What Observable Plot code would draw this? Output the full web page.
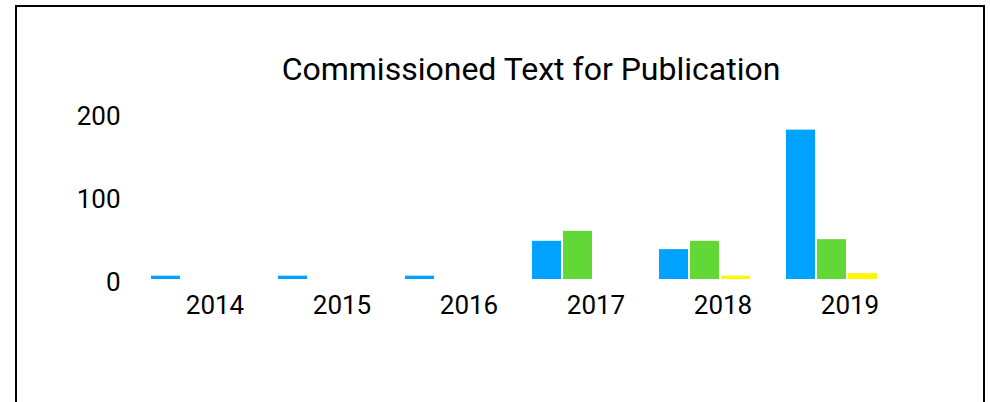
<!DOCTYPE html>
<html>
<head>
<meta charset="utf-8">
<script src="https://cdn.jsdelivr.net/npm/d3@7"></script>
<script src="https://cdn.jsdelivr.net/npm/@observablehq/plot@0.6"></script>
<style>
  html, body { margin: 0; padding: 0; background: #fff; }
  body { width: 990px; height: 402px; overflow: hidden; position: relative; font-family: Roboto, sans-serif; }
  #frame { position: absolute; left: 15px; top: 5px; width: 966px; height: 460px; border: 2px solid #000; box-sizing: content-box; pointer-events: none; }
  #title { height: 95px; box-sizing: border-box; padding-top: 53px; padding-left: 72px; text-align: center; font-size: 32px; line-height: 32px; color: #000; font-family: Roboto, sans-serif; }
  #chart svg { display: block; overflow: visible; }
</style>
</head>
<body>
<div id="frame"></div>
<div id="title">Commissioned Text for Publication</div>
<div id="chart"></div>
<script>
const years = ["2014", "2015", "2016", "2017", "2018", "2019"];
const series = ["Series 1", "Series 2", "Series 3"];
const series1 = [4, 4, 4, 46, 36, 180];
const series2 = [0, 0, 0, 58, 46, 48];
const series3 = [0, 0, 0, 0, 4, 7];
const colors = ["#00A2FF", "#61D836", "#FFF600"];
const yTicks = [0, 100, 200];

const values = [series1, series2, series3];
const data = years.flatMap((yr, i) => series.map((s, j) => ({year: yr, series: s, value: values[j][i]})));

const chart = Plot.plot({
  width: 990,
  height: 307,
  marginTop: 18,
  marginBottom: 123,
  marginLeft: 150,
  marginRight: 76,
  style: {fontFamily: "Roboto", fontSize: "26px", color: "#000", background: "transparent"},
  fx: {domain: years, padding: 0, label: null},
  x: {domain: series, axis: null, paddingInner: 0.06, paddingOuter: 0.53, align: 0},
  y: {domain: [0, 200], label: null},
  color: {domain: series, range: colors},
  marks: [
    Plot.barY(data, {fx: "year", x: "series", y: "value", fill: "series"}),
    Plot.axisY({ticks: yTicks, tickSize: 0, tickPadding: 31, dy: 3, label: null, fontSize: 26}),
    Plot.axisFx({anchor: "bottom", tickSize: 0, tickPadding: 16, label: null, fontSize: 26})
  ]
});
document.getElementById("chart").appendChild(chart);
</script>
</body>
</html>
